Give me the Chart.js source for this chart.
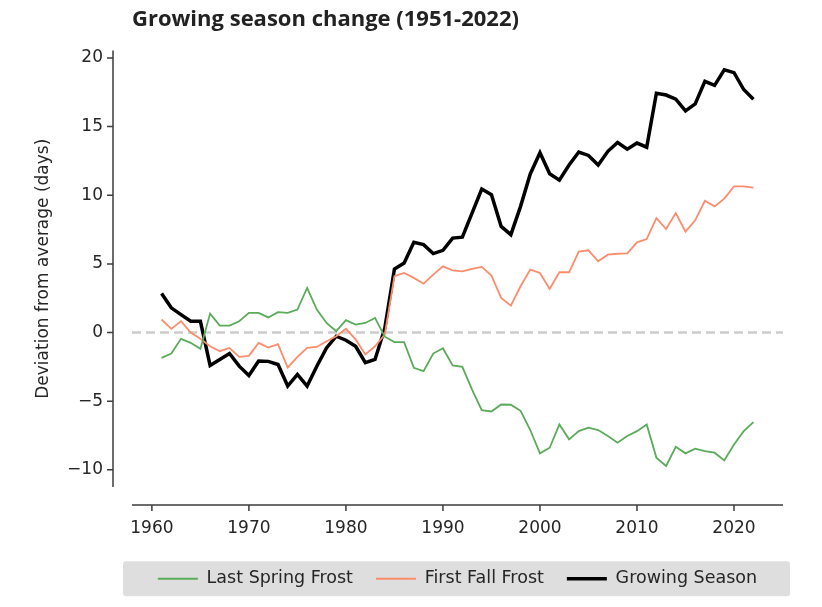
<!DOCTYPE html>
<html>
<head>
<meta charset="utf-8">
<script src="https://cdn.jsdelivr.net/npm/chart.js@4.4.1/dist/chart.umd.min.js"></script>
<style>
  html, body { margin: 0; padding: 0; background: #fff; }
</style>
</head>
<body>
<canvas id="chart" width="822" height="607"></canvas>
<script>
// data (days from average)
const years = [1961, 1962, 1963, 1964, 1965, 1966, 1967, 1968, 1969, 1970,
  1971, 1972, 1973, 1974, 1975, 1976, 1977, 1978, 1979, 1980,
  1981, 1982, 1983, 1984, 1985, 1986, 1987, 1988, 1989, 1990,
  1991, 1992, 1993, 1994, 1995, 1996, 1997, 1998, 1999, 2000,
  2001, 2002, 2003, 2004, 2005, 2006, 2007, 2008, 2009, 2010,
  2011, 2012, 2013, 2014, 2015, 2016, 2017, 2018, 2019, 2020,
  2021, 2022];

const lastSpringFrost = [-1.84, -1.53, -0.46, -0.75, -1.19, 1.38, 0.51, 0.51, 0.82, 1.43,
  1.43, 1.1, 1.48, 1.43, 1.67, 3.25, 1.67, 0.7, 0.1, 0.9,
  0.58, 0.7, 1.07, -0.3, -0.7, -0.7, -2.57, -2.81, -1.53, -1.14,
  -2.4, -2.5, -4.15, -5.65, -5.75, -5.24, -5.26, -5.7, -7.1, -8.8,
  -8.39, -6.69, -7.78, -7.18, -6.93, -7.1, -7.54, -8.02, -7.54, -7.18,
  -6.69, -9.11, -9.72, -8.32, -8.8, -8.46, -8.63, -8.75, -9.31, -8.15,
  -7.18, -6.52];

const firstFallFrost = [0.95, 0.27, 0.82, 0.0, -0.46, -1.0, -1.36, -1.12, -1.77, -1.7,
  -0.75, -1.1, -0.85, -2.55, -1.77, -1.12, -1.05, -0.63, -0.27, 0.27,
  -0.5, -1.6, -1.0, -0.15, 4.1, 4.34, 3.98, 3.56, 4.22, 4.82,
  4.53, 4.46, 4.63, 4.78, 4.15, 2.52, 1.96, 3.37, 4.58, 4.34,
  3.18, 4.39, 4.39, 5.9, 5.99, 5.19, 5.67, 5.74, 5.77, 6.57,
  6.81, 8.34, 7.54, 8.7, 7.35, 8.17, 9.6, 9.19, 9.75, 10.64,
  10.64, 10.56];

const growingSeason = [2.84, 1.8, 1.3, 0.82, 0.82, -2.4, -1.96, -1.53, -2.45, -3.13,
  -2.08, -2.1, -2.33, -3.9, -3.05, -3.9, -2.45, -1.12, -0.27, -0.56,
  -1.0, -2.2, -1.96, 0.3, 4.63, 5.07, 6.57, 6.4, 5.75, 5.99,
  6.88, 6.95, 8.7, 10.45, 10.04, 7.73, 7.13, 9.19, 11.55, 13.1,
  11.56, 11.1, 12.2, 13.15, 12.9, 12.2, 13.2, 13.84, 13.36, 13.8,
  13.5, 17.43, 17.3, 17.0, 16.15, 16.65, 18.3, 18.0, 19.13, 18.93,
  17.7, 17.0];

const xTicks = [1960, 1970, 1980, 1990, 2000, 2010, 2020];
const yTicks = [-10, -5, 0, 5, 10, 15, 20];

const pts = vals => years.map((yr, i) => ({ x: yr, y: vals[i] }));
const tickFont = { family: "DejaVu Sans", size: 17 };

// seaborn-like offset spines, zero line, legend box
const spines = {
  id: "spines",
  beforeDraw(chart) {
    const { ctx, chartArea: a } = chart;
    const lg = chart.legend;
    if (lg && lg.legendHitBoxes.length) {
      const hb = lg.legendHitBoxes[0];
      const cy = hb.top + hb.height / 2;
      ctx.save();
      ctx.fillStyle = "#dedede";
      ctx.beginPath();
      ctx.roundRect(a.left - 9, cy - 17.5, a.right - a.left + 16, 35, 3);
      ctx.fill();
      ctx.restore();
    }
  },
  beforeDatasetsDraw(chart) {
    const { ctx, chartArea: a, scales: { y } } = chart;
    const y0 = y.getPixelForValue(0);
    ctx.save();
    ctx.strokeStyle = "#cccccc";
    ctx.lineWidth = 2.5;
    ctx.setLineDash([9, 5]);
    ctx.beginPath();
    ctx.moveTo(a.left, y0);
    ctx.lineTo(a.right, y0);
    ctx.stroke();
    ctx.restore();
  },
  afterDraw(chart) {
    const { ctx, chartArea: a, scales: { x, y } } = chart;
    const sx = a.left - 19, sy = a.bottom + 18;
    ctx.save();
    ctx.strokeStyle = "#3c3c3c";
    ctx.lineWidth = 1.5;
    ctx.beginPath();
    ctx.moveTo(sx, a.top);
    ctx.lineTo(sx, a.bottom);
    y.ticks.forEach(t => {
      const py = y.getPixelForValue(t.value);
      ctx.moveTo(sx - 6, py);
      ctx.lineTo(sx, py);
    });
    ctx.moveTo(a.left, sy);
    ctx.lineTo(a.right, sy);
    x.ticks.forEach(t => {
      const px = x.getPixelForValue(t.value);
      ctx.moveTo(px, sy);
      ctx.lineTo(px, sy + 6);
    });
    ctx.stroke();
    ctx.restore();
  }
};

new Chart(document.getElementById("chart"), {
  type: "line",
  data: {
    datasets: [
      { label: "Last Spring Frost", data: pts(lastSpringFrost), borderColor: "#5aab5a", backgroundColor: "#5aab5a", borderWidth: 1.8 },
      { label: "First Fall Frost", data: pts(firstFallFrost), borderColor: "#fc8d6c", backgroundColor: "#fc8d6c", borderWidth: 1.8 },
      { label: "Growing Season", data: pts(growingSeason), borderColor: "#000000", backgroundColor: "#000000", borderWidth: 3.5 }
    ]
  },
  options: {
    responsive: false,
    animation: false,
    devicePixelRatio: 1,
    elements: { point: { radius: 0 }, line: { tension: 0 } },
    layout: { padding: { left: 0, right: 39, top: 0, bottom: 20 } },
    scales: {
      x: {
        type: "linear",
        min: 1957.95,
        max: 2025.05,
        afterBuildTicks: s => { s.ticks = xTicks.map(v => ({ value: v })); },
        afterFit: s => { s.height = 60; },
        grid: { display: false, drawTicks: false },
        border: { display: false },
        ticks: { padding: 31, color: "#262626", font: tickFont, callback: v => String(v), maxRotation: 0 }
      },
      y: {
        min: -11.25,
        max: 20.55,
        afterBuildTicks: s => { s.ticks = yTicks.map(v => ({ value: v })); },
        afterFit: s => { s.width = 132; },
        grid: { display: false, drawTicks: false },
        border: { display: false },
        ticks: { padding: 29, color: "#262626", font: tickFont, callback: v => (v < 0 ? "\u2212" + Math.abs(v) : String(v)) },
        title: { display: true, text: "Deviation from average (days)", color: "#262626", font: tickFont, padding: { top: 33, bottom: 0 } }
      }
    },
    plugins: {
      title: {
        display: true,
        text: "Growing season change (1951-2022)",
        align: "start",
        fullSize: false,
        color: "#222222",
        font: { family: "Open Sans", weight: "bold", size: 22 },
        padding: { top: 7, bottom: 17 }
      },
      legend: {
        position: "bottom",
        fullSize: false,
        maxHeight: 40,
        labels: {
          usePointStyle: true,
          pointStyle: "line",
          pointStyleWidth: 40,
          padding: 23,
          color: "#262626",
          font: { family: "DejaVu Sans", size: 17.5 }
        }
      },
      tooltip: { enabled: false }
    }
  },
  plugins: [spines]
});
</script>
</body>
</html>
